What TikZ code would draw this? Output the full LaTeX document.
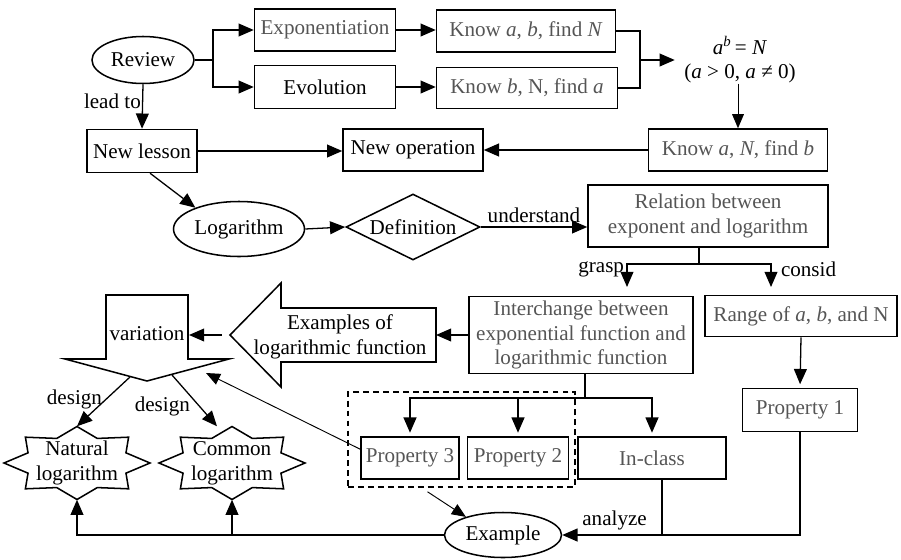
\documentclass[tikz,border=0pt]{standalone}
\usepackage{fontspec}
\setmainfont{Liberation Serif}
\usetikzlibrary{arrows.meta, shapes.geometric, calc}
\definecolor{txtgray}{RGB}{85,85,85}

\tikzset{
  every node/.style={font=\fontsize{18}{21}\selectfont},
  box/.style={draw, line width=1.3pt, align=center, inner sep=0pt},
  gbox/.style={box, text=txtgray},
  oval/.style={draw, ellipse, line width=1.3pt, inner sep=0pt},
  seal/.style={align=center, inner sep=0pt, minimum width=4.38cm, minimum height=2.19cm},
  outline/.style={line width=1.3pt},
  link/.style={line width=1.1pt, -{Triangle[length=13pt,width=11pt]}},
  thinlink/.style={line width=0.8pt, -{Triangle[length=12pt,width=10pt]}},
}

% eight-pointed seal drawn round a node
\newcommand{\sealshape}[1]{%
  \draw[outline, shift={(#1.center)}] (0:73 and 36.5)
    \foreach \a in {45,90,...,360} { -- (\a-22.5:53 and 26.6) -- (\a:73 and 36.5) } -- cycle;}

\begin{document}
\begin{tikzpicture}[x=0.03cm, y=-0.03cm]
\useasboundingbox (0,0) rectangle (901,559);

% top rows
\node[oval, minimum width=3.06cm, minimum height=1.41cm] (rev) at (143,60) {Review};
\node[gbox, minimum width=4.23cm, minimum height=1.26cm] (expo) at (325,30) {Exponentiation};
\node[box, minimum width=4.23cm, minimum height=1.29cm] (evol) at (325,87) {Evolution};
\node[gbox, minimum width=5.37cm, minimum height=1.26cm] (knab) at (526,31) {Know \textit{a}, \textit{b}, find \textit{N}};
\node[gbox, minimum width=5.43cm, minimum height=1.23cm] (knbn) at (527,88) {Know \textit{b}, N, find \textit{a}};
\node[align=center, inner xsep=8pt, inner ysep=0pt] (form) at (740,60)
  {\textit{a}\textsuperscript{\textit{b}}\,= \textit{N}\\(\textit{a} > 0, \textit{a} ≠ 0)};
\node[gbox, minimum width=5.37cm, minimum height=1.26cm] (knan) at (738,150) {Know \textit{a}, \textit{N}, find \textit{b}};
\node[box, minimum width=4.2cm, minimum height=1.26cm] (newop) at (413,150) {New operation};
\node[box, minimum width=3.3cm, minimum height=1.29cm] (newles) at (142,151) {New lesson};

% middle rows
\node[oval, minimum width=3.93cm, minimum height=1.65cm] (loga) at (239,229) {Logarithm};
\node[draw, diamond, aspect=2, line width=1.3pt, inner sep=0pt, minimum width=4.02cm, minimum height=1.98cm] (defn) at (413,227) {Definition};
\node[gbox, minimum width=7.2cm, minimum height=1.86cm] (relat) at (708,216) {Relation between\\exponent and logarithm};
\node[gbox, minimum width=6.72cm, minimum height=2.31cm] (inter) at (581,335) {Interchange between\\exponential function and\\logarithmic function};
\node[gbox, minimum width=5.76cm, minimum height=1.23cm] (range) at (801,316) {Range of \textit{a}, \textit{b}, and N};
\node[gbox, minimum width=3.45cm, minimum height=1.29cm] (prop1) at (800,410) {Property 1};

% big arrows
\draw[outline] (230,335) coordinate (exltip) -- (281,283) -- (281,308) -- (436,308)
  -- (436,362) -- (281,362) -- (281,387) -- cycle;
\coordinate (exltail) at (436,335);
\node[align=center, inner sep=0pt] (exlog) at (340,337) {Examples of\\logarithmic function};
\draw[outline] (106,295) -- (188,295) -- (188,359) -- (229,359) -- (147,381) -- (65,359) -- (106,359) -- cycle;
\node[inner sep=0pt] (var) at (147,334) {variation};
\coordinate (varE) at (189,335);
\coordinate (varL) at (130,377);
\coordinate (varR) at (172,375);
\coordinate (varP) at (206,373);

% bottom rows
\node[gbox, minimum width=4.44cm, minimum height=1.26cm] (incls) at (652,458) {In-class};
\node[gbox, minimum width=2.94cm, minimum height=1.26cm] (prop3) at (410,458) {Property 3};
\node[gbox, minimum width=3.03cm, minimum height=1.26cm] (prop2) at (518,458) {Property 2};
\node[draw, dash pattern=on 5pt off 3.5pt, line width=1.3pt, minimum width=6.81cm, minimum height=2.85cm] (grp) at (461.5,439.5) {};
\node[oval, minimum width=3.51cm, minimum height=1.35cm] (exmp) at (503,535) {Example};
\node[seal] (nat) at (77,463) {Natural\\logarithm};
\node[seal] (com) at (232,463) {Common\\logarithm};
\sealshape{nat}
\sealshape{com}

% connectors
\coordinate (j1) at (213,60);
\draw[link] (rev.east) -- (j1) |- (expo.west);
\draw[link] (j1) |- (evol.west);
\draw[link] (expo.east) -- (expo.east -| knab.west);
\draw[link] (evol.east) -- (evol.east -| knbn.west);
\coordinate (j2) at (640,60);
\draw[line width=1.1pt] (knab.east) -| (j2) |- (knbn.east);
\draw[link] (j2) -- (form.west);
\draw[thinlink] (form.south -| knan.north) -- (knan.north);
\draw[link] (knan.west) -- (newop.east);
\draw[link] (rev.south) -- (newles.north) node[pos=0.38, left, inner sep=1pt] {lead to};
\draw[link] (newles.east) -- (newles.east -| newop.west);
\draw[link] (newles.-70) -- (loga.154);
\draw[link] (loga.east) -- (defn.west);
\draw[link] (defn.east) -- (defn.east -| relat.west) node[midway, above] {understand};

\coordinate (j3) at (699,264);
\coordinate (g1) at (627,287);
\coordinate (c1) at (771,287);
\draw[line width=1.1pt] (j3 |- relat.south) -- (j3);
\draw[link] (j3) -| (g1) node[pos=0.62, left, inner sep=2pt] {grasp};
\draw[link] (j3) -| (c1) node[pos=0.62, right, inner sep=8pt] {consid};
\draw[link, shorten >=3pt] (range.south) -- (prop1.north);

\draw[link] (inter.west) -- (exltail);
\draw[link, shorten <=7pt] (exltip) -- (varE);
\draw[link] (varL) -- (nat.north) node[pos=0.45, left, inner sep=3pt] {design};
\draw[link] (varR) -- ([xshift=-0.45cm]com.north) node[pos=0.62, left, inner sep=8pt] {design};

\coordinate (j4) at (585,398);
\draw[line width=1.1pt] (inter.south -| j4) -- (j4);
\draw[link, shorten >=3pt] (j4) -| (prop3.north);
\draw[link, shorten >=3pt] (j4) -| (prop2.north);
\draw[link, shorten >=3pt] (j4) -| (incls.north);
\draw[thinlink] (prop3.170) -- (varP);
\draw[thinlink] ($(grp.south)+(-34,4)$) -- (exmp.154);

\draw[link] (exmp.west) -| (nat.south);
\draw[link] (com.south |- exmp.west) -- (com.south);
\draw[line width=1.1pt] ([xshift=0.3cm]incls.south) -- ([xshift=0.3cm]incls.south |- exmp.east);
\draw[link] (prop1.south) |- (exmp.east) node[pos=0.89, above] {analyze};

\end{tikzpicture}
\end{document}
